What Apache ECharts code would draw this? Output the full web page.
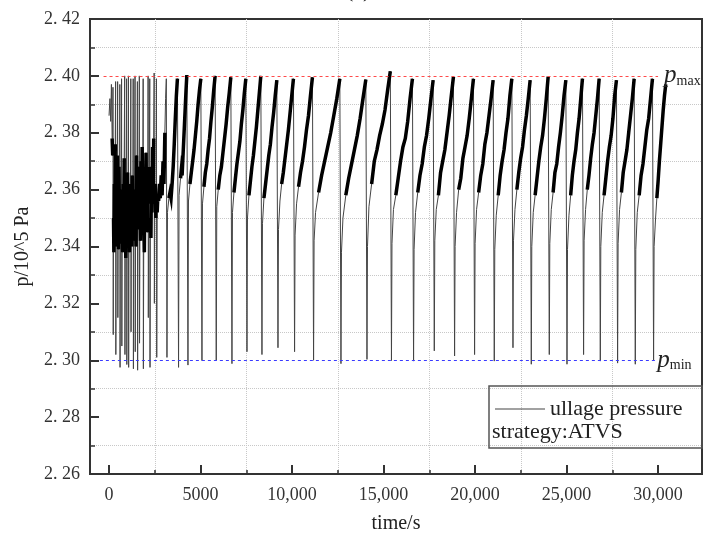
<!DOCTYPE html>
<html>
<head>
<meta charset="utf-8">
<script src="https://cdn.jsdelivr.net/npm/echarts@6/dist/echarts.min.js"></script>
<style>
  html, body { margin: 0; padding: 0; background: #fff; }
  #chart { width: 703px; height: 539px; }
</style>
</head>
<body>
<div id="chart"></div>
<script>
// ---- data (time in s, pressure in 10^5 Pa) ----

// start-up phase: dense venting, pressure bouncing between pmin and pmax
const earlyPoints = [
  [0, 2.386], [50, 2.392], [90, 2.384], [130, 2.397], [170, 2.378], [200, 2.372], [215, 2.396],
  [230, 2.309], [245, 2.350], [265, 2.338], [290, 2.362], [315, 2.344], [340, 2.376], [360, 2.398],
  [372, 2.302], [390, 2.345], [410, 2.370], [430, 2.340], [455, 2.372], [470, 2.398],
  [482, 2.315], [500, 2.352], [520, 2.339], [545, 2.368], [570, 2.350], [590, 2.397],
  [602, 2.2975], [620, 2.343], [645, 2.360], [665, 2.341], [685, 2.399],
  [700, 2.305], [720, 2.350], [745, 2.338], [775, 2.362], [800, 2.345], [830, 2.371], [855, 2.400],
  [870, 2.302], [890, 2.348], [915, 2.336], [940, 2.359], [960, 2.399],
  [972, 2.2985], [990, 2.344], [1015, 2.366], [1040, 2.348], [1060, 2.400],
  [1072, 2.2975], [1090, 2.347], [1115, 2.338], [1140, 2.362], [1165, 2.344], [1190, 2.399],
  [1202, 2.310], [1220, 2.352], [1245, 2.340], [1270, 2.365], [1300, 2.349], [1320, 2.399],
  [1332, 2.297], [1350, 2.344], [1375, 2.360], [1400, 2.342], [1420, 2.400],
  [1432, 2.303], [1450, 2.350], [1475, 2.340], [1500, 2.372], [1525, 2.352], [1550, 2.398],
  [1562, 2.2965], [1580, 2.346], [1610, 2.368], [1635, 2.350], [1655, 2.400],
  [1667, 2.306], [1690, 2.352], [1720, 2.342], [1750, 2.370], [1780, 2.348], [1810, 2.375], [1840, 2.356], [1865, 2.399],
  [1877, 2.297], [1900, 2.350], [1930, 2.338], [1960, 2.366], [1990, 2.350], [2020, 2.373], [2050, 2.355], [2080, 2.362], [2110, 2.345], [2135, 2.400],
  [2147, 2.315], [2170, 2.355], [2200, 2.368], [2225, 2.399],
  [2240, 2.2975], [2260, 2.350], [2290, 2.343], [2320, 2.368], [2350, 2.352], [2380, 2.375], [2410, 2.358], [2440, 2.378], [2465, 2.401],
  [2478, 2.320], [2500, 2.355], [2530, 2.362], [2560, 2.350], [2590, 2.399],
  [2607, 2.301], [2630, 2.352], [2670, 2.358], [2710, 2.356], [2760, 2.362], [2800, 2.357], [2850, 2.365],
  [2900, 2.358], [2950, 2.370], [3000, 2.362], [3050, 2.380], [3090, 2.392], [3130, 2.399]
];

// regular vent cycles after start-up
const ventTimes = [3153, 3787, 4301, 5066, 5847, 6705, 7525, 8344, 9219, 10126, 11164, 12661, 14082, 15420,
  16628, 17760, 18869, 19962, 21038, 22060, 23060, 24044, 25011, 25918, 26831, 27776, 28743, 29743];
const endTime = 30420;
const ventLows = [2.3010, 2.2975, 2.2983, 2.2999, 2.3000, 2.2988, 2.3030, 2.3020, 2.3044, 2.3030, 2.3000, 2.2988, 2.3003, 2.2999,
  2.2997, 2.3033, 2.3015, 2.3020, 2.2997, 2.3044, 2.2986, 2.3020, 2.2986, 2.3020, 2.2997, 2.2990, 2.2986, 2.2999];
const reboundValues = [2.352, 2.358, 2.356, 2.355, 2.354, 2.352, 2.350, 2.348, 2.346, 2.344, 2.342, 2.338, 2.340, 2.341,
  2.339, 2.342, 2.340, 2.341, 2.339, 2.342, 2.340, 2.341, 2.339, 2.342, 2.340, 2.341, 2.339, 2.340];
// pressure read at 8 even instants of each recovery, then the peak reached just before the next vent
const riseValues = [
  [2.357, 2.359, 2.357, 2.362, 2.368, 2.376, 2.385, 2.393],
  [2.364, 2.367, 2.365, 2.371, 2.377, 2.383, 2.389, 2.395],
  [2.362, 2.366, 2.370, 2.374, 2.379, 2.384, 2.390, 2.395],
  [2.361, 2.366, 2.369, 2.374, 2.378, 2.384, 2.389, 2.395],
  [2.360, 2.365, 2.368, 2.373, 2.378, 2.383, 2.389, 2.394],
  [2.359, 2.364, 2.369, 2.373, 2.377, 2.383, 2.388, 2.394],
  [2.358, 2.363, 2.368, 2.372, 2.377, 2.382, 2.388, 2.394],
  [2.357, 2.362, 2.367, 2.372, 2.376, 2.382, 2.387, 2.393],
  [2.356, 2.362, 2.366, 2.371, 2.376, 2.381, 2.387, 2.393],
  [2.355, 2.361, 2.366, 2.370, 2.375, 2.381, 2.386, 2.393],
  [2.352, 2.359, 2.365, 2.370, 2.375, 2.380, 2.386, 2.392],
  [2.350, 2.358, 2.364, 2.369, 2.374, 2.379, 2.385, 2.392],
  [2.354, 2.362, 2.370, 2.374, 2.379, 2.383, 2.388, 2.395],
  [2.353, 2.358, 2.364, 2.370, 2.375, 2.378, 2.384, 2.392],
  [2.352, 2.359, 2.365, 2.369, 2.375, 2.379, 2.385, 2.392],
  [2.353, 2.358, 2.366, 2.370, 2.374, 2.380, 2.386, 2.393],
  [2.352, 2.360, 2.364, 2.371, 2.375, 2.379, 2.385, 2.392],
  [2.353, 2.359, 2.365, 2.369, 2.376, 2.380, 2.386, 2.392],
  [2.351, 2.358, 2.365, 2.370, 2.374, 2.380, 2.385, 2.393],
  [2.353, 2.360, 2.366, 2.371, 2.375, 2.381, 2.386, 2.392],
  [2.352, 2.358, 2.364, 2.370, 2.375, 2.379, 2.385, 2.392],
  [2.353, 2.359, 2.366, 2.369, 2.375, 2.380, 2.386, 2.393],
  [2.351, 2.358, 2.365, 2.370, 2.374, 2.380, 2.385, 2.392],
  [2.353, 2.360, 2.365, 2.371, 2.376, 2.380, 2.386, 2.392],
  [2.352, 2.358, 2.364, 2.370, 2.375, 2.379, 2.385, 2.393],
  [2.353, 2.359, 2.366, 2.370, 2.374, 2.380, 2.386, 2.392],
  [2.352, 2.358, 2.365, 2.369, 2.375, 2.381, 2.385, 2.392],
  [2.350, 2.357, 2.363, 2.370, 2.376, 2.382, 2.388, 2.393]
];
const peakValues = [2.399, 2.4003, 2.399, 2.400, 2.3995, 2.399, 2.400, 2.3985, 2.399, 2.3995, 2.399, 2.3987, 2.4016, 2.399,
  2.3985, 2.3997, 2.399, 2.3985, 2.399, 2.3985, 2.3997, 2.3985, 2.399, 2.399, 2.3985, 2.399, 2.399, 2.397];

const pMax = 2.40;
const pMin = 2.30;
const majorTimeTicks = [0, 5000, 10000, 15000, 20000, 25000, 30000];
const minorTimeTicks = [2500, 7500, 12500, 17500, 22500, 27500];

// ---- build line data ----
const thinData = [];
const thickData = [];   // the noisy upper part of each recovery, drawn heavier

earlyPoints.forEach(([t, p]) => {
  thinData.push([t, p]);
  thickData.push([t, (p >= 2.333 && p <= 2.382) ? p : '-']);
});

ventTimes.forEach((t0, i) => {
  const tPeak = i + 1 < ventTimes.length ? ventTimes[i + 1] - 50 : endTime;
  thinData.push([t0 + 12, ventLows[i]]);
  thickData.push([t0 + 12, '-']);
  thinData.push([t0 + 40, reboundValues[i]]);
  thickData.push([t0 + 40, '-']);
  const start = t0 + 120;
  const step = (tPeak - start) / riseValues[i].length;
  riseValues[i].forEach((p, k) => {
    const t = Math.round(start + k * step);
    thinData.push([t, p]);
    thickData.push([t, p >= 2.357 ? p : '-']);
  });
  thinData.push([tPeak, peakValues[i]]);
  thickData.push([tPeak, peakValues[i]]);
});

const serif = 'Liberation Serif, Times New Roman, serif';

let chart = echarts.init(document.getElementById('chart'));
chart.setOption({
  animation: false,
  backgroundColor: '#fff',
  grid: {
    left: 90, top: 19, right: 1, bottom: 62,
    show: true, borderColor: '#333', borderWidth: 2
  },
  legend: {
    left: 490, top: 393,
    data: [{name: 'ullage pressure', icon: 'rect'}],
    itemWidth: 50, itemHeight: 1, itemGap: 8,
    textStyle: {fontFamily: serif, fontSize: 22, color: '#222'}
  },
  graphic: [
    {type: 'rect', shape: {x: 489, y: 386, width: 213, height: 62},
      style: {fill: 'none', stroke: '#555', lineWidth: 1.5}, z: 100},
    {type: 'text', x: 492, y: 421,
      style: {text: 'strategy:ATVS', font: '22px ' + serif, fill: '#222'}, z: 100},
    {type: 'text', x: 346, y: -20,
      style: {text: '(a)', font: '22px ' + serif, fill: '#222'}}
  ],
  xAxis: [
    {
      type: 'value', min: -1040, max: 32400,
      name: 'time/s', nameLocation: 'middle', nameGap: 40,
      nameTextStyle: {fontFamily: serif, fontSize: 20, color: '#222'},
      axisLine: {show: true, onZero: false, lineStyle: {color: '#333', width: 2}},
      axisTick: {show: true, inside: true, length: 9, customValues: majorTimeTicks, lineStyle: {color: '#333', width: 2}},
      axisLabel: {
        customValues: majorTimeTicks, margin: 12,
        fontFamily: serif, fontSize: 18, color: '#333',
        formatter: v => (v < 10000 ? String(v) : v.toLocaleString('en-US'))
      },
      splitLine: {show: false}
    },
    {
      type: 'value', min: -1040, max: 32400, position: 'bottom',
      axisLine: {show: false, onZero: false},
      axisTick: {show: true, inside: true, length: 4, customValues: minorTimeTicks, lineStyle: {color: '#333', width: 1.5}},
      axisLabel: {show: false},
      splitLine: {show: true, lineStyle: {color: '#c8c8c8', type: 'dotted', width: 1}}
    }
  ],
  yAxis: {
    type: 'value', min: 2.26, max: 2.42, interval: 0.02,
    name: 'p/10^5 Pa', nameLocation: 'middle', nameGap: 53,
    nameTextStyle: {fontFamily: serif, fontSize: 20, color: '#222'},
    axisLine: {show: true, onZero: false, lineStyle: {color: '#333', width: 2}},
    axisTick: {show: true, inside: true, length: 9, lineStyle: {color: '#333', width: 2}},
    minorTick: {show: true, splitNumber: 2, length: 5, lineStyle: {color: '#333', width: 1.5}},
    axisLabel: {
      margin: 10, fontFamily: serif, fontSize: 18, color: '#333',
      formatter: v => v.toFixed(2).replace('.', '. ')
    },
    splitLine: {show: false},
    minorSplitLine: {show: true, lineStyle: {color: '#c8c8c8', type: 'dotted', width: 1}}
  },
  series: [
    {
      name: 'ullage pressure', type: 'line', xAxisIndex: 0,
      data: thinData, symbol: 'none', sampling: 'none',
      lineStyle: {color: '#444', width: 1}, itemStyle: {color: '#444'},
      markLine: {
        silent: true, symbol: 'none',
        data: [
          [{coord: [-300, pMax], lineStyle: {color: '#ff4a4a', type: [3, 3], width: 1},
            label: {show: true, position: 'end', distance: 6, formatter: '{p|p}{s|max}',
              rich: {p: {fontFamily: serif, fontStyle: 'italic', fontSize: 25, color: '#222'},
                     s: {fontFamily: serif, fontSize: 14, color: '#222', padding: [10, 0, 0, 0]}}}},
           {coord: [30000, pMax]}],
          [{coord: [-500, pMin], lineStyle: {color: '#3a3aff', type: [3, 3], width: 1},
            label: {show: true, position: 'end', distance: 2, formatter: '{p|p}{s|min}',
              rich: {p: {fontFamily: serif, fontStyle: 'italic', fontSize: 25, color: '#222'},
                     s: {fontFamily: serif, fontSize: 14, color: '#222', padding: [10, 0, 0, 0]}}}},
           {coord: [29850, pMin]}]
        ]
      }
    },
    {
      name: 'ullage pressure (noise band)', type: 'line', xAxisIndex: 0,
      data: thickData, symbol: 'none', sampling: 'none', silent: true,
      lineStyle: {color: '#000', width: 3.5, join: 'miter'}
    }
  ]
});

window.onresize = () => { chart && chart.resize(); };
</script>
</body>
</html>
